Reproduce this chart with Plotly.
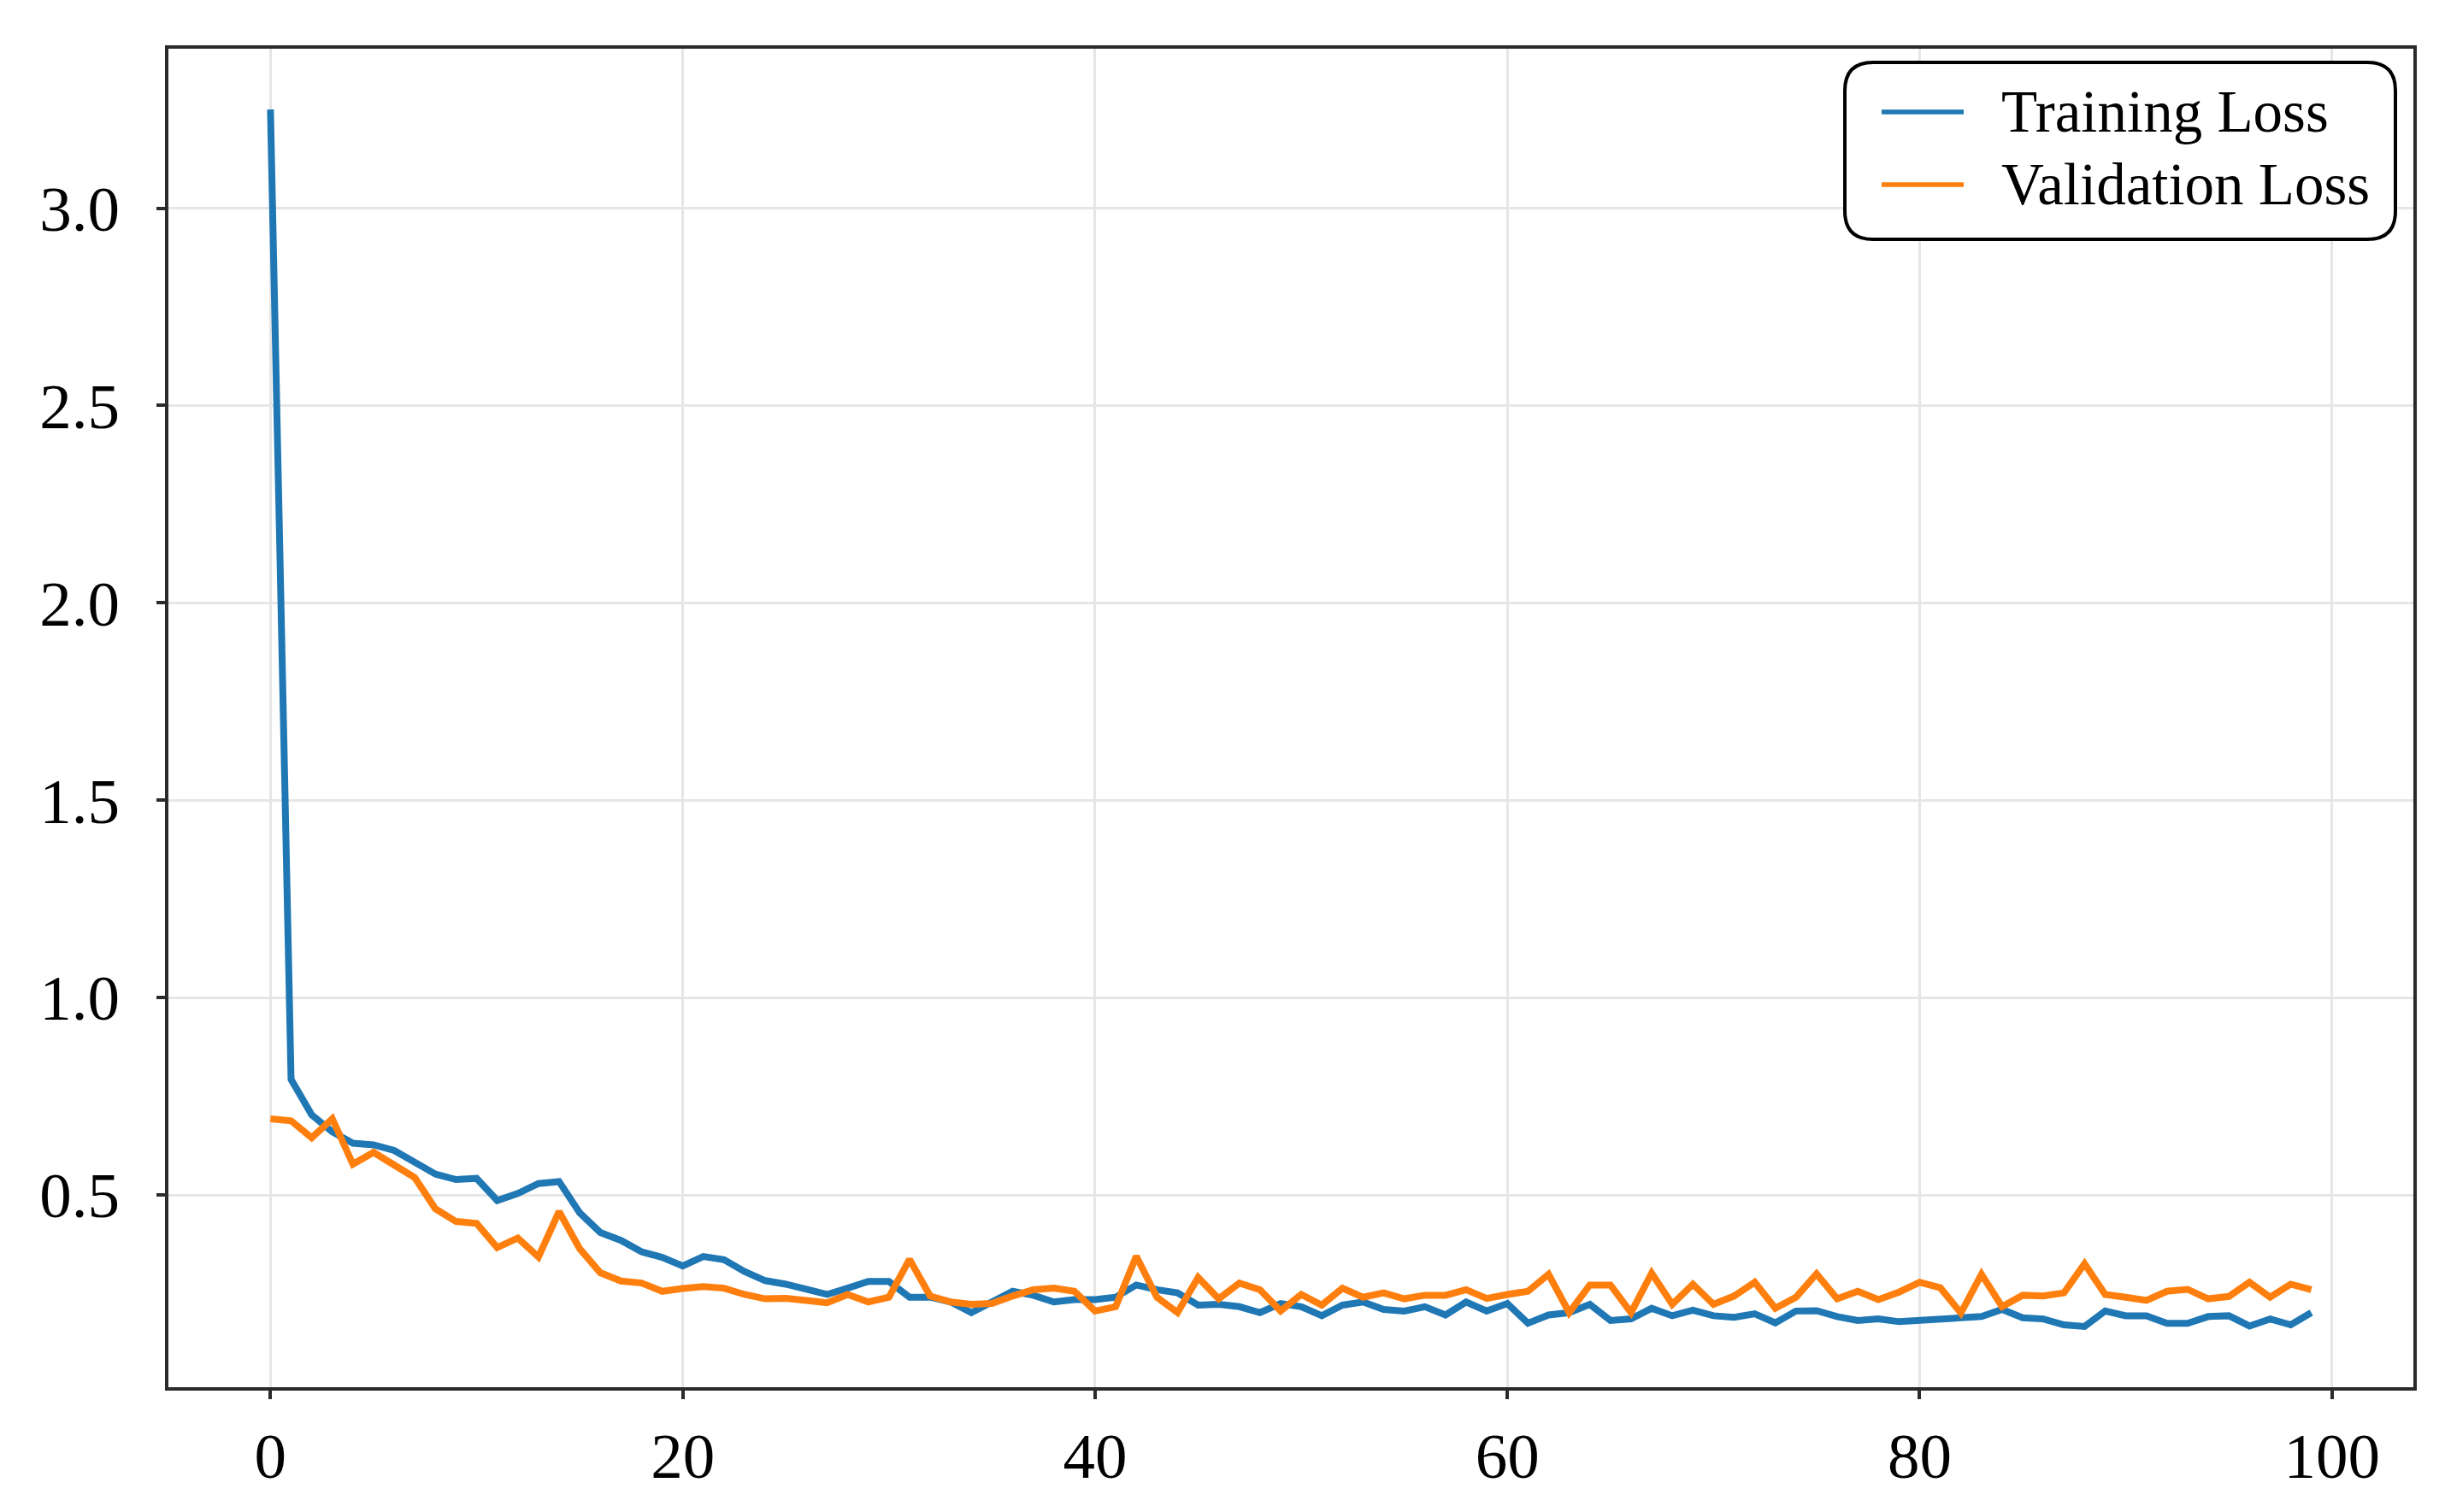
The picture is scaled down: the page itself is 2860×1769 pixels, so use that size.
import plotly.graph_objects as go

epochs = list(range(100))

training_loss = [
    3.25, 0.793, 0.703, 0.660, 0.631, 0.627, 0.613, 0.582, 0.553, 0.539,
    0.542, 0.486, 0.504, 0.529, 0.534, 0.455, 0.405, 0.385, 0.356, 0.342,
    0.320, 0.344, 0.336, 0.306, 0.283, 0.274, 0.260, 0.248, 0.264, 0.281,
    0.281, 0.241, 0.241, 0.229, 0.202, 0.229, 0.256, 0.246, 0.229, 0.235,
    0.235, 0.241, 0.272, 0.260, 0.252, 0.221, 0.223, 0.217, 0.202, 0.225,
    0.217, 0.194, 0.221, 0.229, 0.210, 0.206, 0.217, 0.196, 0.229, 0.206,
    0.225, 0.175, 0.196, 0.202, 0.223, 0.182, 0.186, 0.213, 0.194, 0.208,
    0.194, 0.190, 0.199, 0.176, 0.206, 0.207, 0.192, 0.182, 0.186, 0.179,
    0.183, 0.184, 0.192, 0.192, 0.210, 0.189, 0.186, 0.171, 0.167, 0.206,
    0.194, 0.194, 0.175, 0.175, 0.192, 0.194, 0.168, 0.186, 0.171, 0.202,
]

validation_loss = [
    0.693, 0.688, 0.645, 0.693, 0.578, 0.608, 0.576, 0.544, 0.465, 0.433,
    0.428, 0.367, 0.391, 0.343, 0.458, 0.364, 0.303, 0.282, 0.277, 0.256,
    0.263, 0.268, 0.264, 0.248, 0.237, 0.238, 0.233, 0.227, 0.248, 0.229,
    0.241, 0.337, 0.244, 0.229, 0.223, 0.225, 0.244, 0.260, 0.264, 0.256,
    0.206, 0.217, 0.345, 0.241, 0.202, 0.291, 0.237, 0.277, 0.260, 0.206,
    0.248, 0.221, 0.264, 0.241, 0.252, 0.237, 0.246, 0.246, 0.260, 0.238,
    0.248, 0.256, 0.299, 0.202, 0.272, 0.272, 0.202, 0.302, 0.223, 0.274,
    0.223, 0.244, 0.279, 0.213, 0.241, 0.300, 0.237, 0.256, 0.235, 0.254,
    0.279, 0.265, 0.201, 0.299, 0.217, 0.246, 0.244, 0.252, 0.326, 0.248,
    0.241, 0.233, 0.256, 0.261, 0.237, 0.243, 0.279, 0.241, 0.274, 0.260,
]

series_names = ["Training Loss", "Validation Loss"]
series_colors = ["#1f77b4", "#ff7f0e"]

x_ticks = [0, 20, 40, 60, 80, 100]
y_ticks = [0.5, 1.0, 1.5, 2.0, 2.5, 3.0]
y_tick_labels = ["0.5", "1.0", "1.5", "2.0", "2.5", "3.0"]

FONT = "Liberation Serif"
W, H = 2860, 1769
ML, MR, MT, MB = 189, 45, 49, 154
PW, PH = W - ML - MR, H - MT - MB


def px2paper_x(px):
    return (px - ML) / PW


def px2paper_y(py):
    return 1 - (py - MT) / PH


fig = go.Figure()
for name, color, vals in zip(series_names, series_colors, [training_loss, validation_loss]):
    fig.add_trace(go.Scatter(x=epochs, y=vals, mode="lines", name=name,
                             line=dict(color=color, width=8), showlegend=False))

# Legend frame with rounded corners
x0, x1 = px2paper_x(2150), px2paper_x(2794)
y1, y0 = px2paper_y(65), px2paper_y(272)
rx, ry = 33 / PW, 33 / PH
path = (f"M{x0+rx},{y1} L{x1-rx},{y1} Q{x1},{y1} {x1},{y1-ry} "
        f"L{x1},{y0+ry} Q{x1},{y0} {x1-rx},{y0} L{x0+rx},{y0} "
        f"Q{x0},{y0} {x0},{y0+ry} L{x0},{y1-ry} Q{x0},{y1} {x0+rx},{y1} Z")
fig.add_shape(type="path", path=path, xref="paper", yref="paper",
              line=dict(color="black", width=4), fillcolor="white", layer="above")

# Legend entries (key line + label)
row_y = [123, 208]
for name, color, ry_px in zip(series_names, series_colors, row_y):
    fig.add_shape(type="line", xref="paper", yref="paper",
                  x0=px2paper_x(2193), x1=px2paper_x(2289),
                  y0=px2paper_y(ry_px), y1=px2paper_y(ry_px),
                  line=dict(color=color, width=5.5), layer="above")
    fig.add_annotation(text=name, xref="paper", yref="paper",
                       x=px2paper_x(2331), y=px2paper_y(ry_px),
                       xanchor="left", yanchor="middle", showarrow=False,
                       font=dict(family=FONT, size=69, color="black"))

axis_common = dict(
    showline=True, linecolor="#2b2b2b", linewidth=4, mirror=True,
    ticks="outside", ticklen=10, tickwidth=3.5, tickcolor="#2b2b2b",
    showgrid=True, gridcolor="#e6e6e6", gridwidth=2.5, zeroline=False,
    tickfont=dict(family=FONT, size=75, color="black"),
)

fig.update_layout(
    width=W, height=H,
    margin=dict(l=ML, r=MR, t=MT, b=MB),
    paper_bgcolor="white", plot_bgcolor="white",
    xaxis=dict(range=[-4.95, 103.95], tickvals=x_ticks, ticklabelstandoff=2, **axis_common),
    yaxis=dict(range=[0.013, 3.404], tickvals=y_ticks, ticktext=y_tick_labels,
               ticklabelstandoff=28, **axis_common),
    showlegend=False,
)

fig.write_html("out.html")
